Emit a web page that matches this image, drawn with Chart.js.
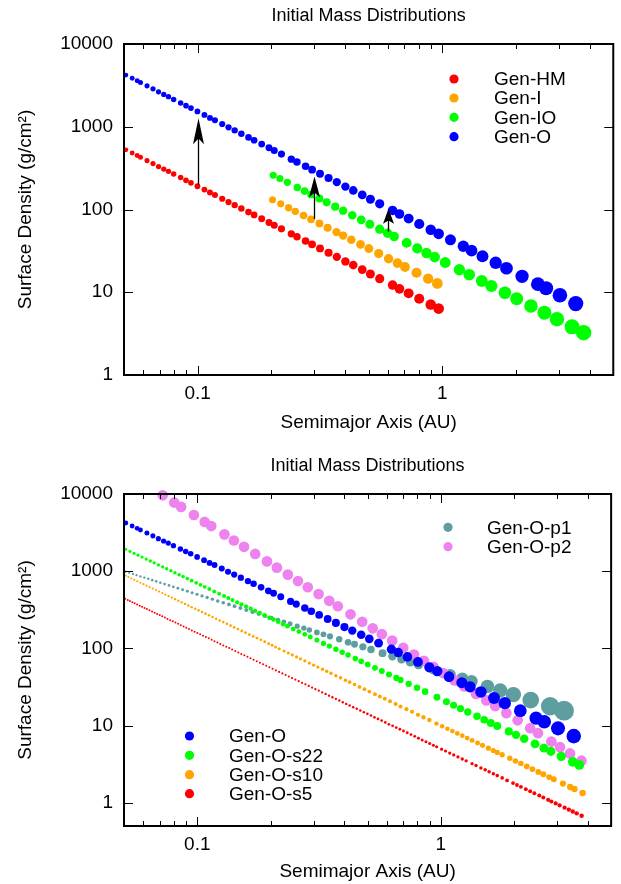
<!DOCTYPE html>
<html>
<head>
<meta charset="utf-8">
<script src="https://cdn.jsdelivr.net/npm/chart.js@4.4.0/dist/chart.umd.min.js"></script>
<style>
  body { margin: 0; background: #fff; }
  .box { position: absolute; left: 0; width: 621px; height: 442px; }
  canvas { display: block; }
</style>
</head>
<body>
<div class="box" style="top:0"><canvas id="topChart" width="621" height="442"></canvas></div>
<div class="box" style="top:442px"><canvas id="bottomChart" width="621" height="442"></canvas></div>
<script>
// axis ticks
const xMajor = [0.1, 1];
const xMinor = [0.06, 0.07, 0.08, 0.09, 0.2, 0.3, 0.4, 0.5, 0.6, 0.7, 0.8, 0.9, 2, 3, 4, 5];
const yMajor = [1, 10, 100, 1000, 10000];

// Gen-O (both panels)
const genOA = [0.0509,0.0540,0.0566,0.0584,0.0621,0.0657,0.0692,0.0727,0.0760,0.0798,
  0.0852,0.0896,0.0939,0.0998,0.1066,0.1123,0.1177,0.1260,0.1337,0.1417,
  0.1509,0.1614,0.1702,0.1827,0.1957,0.2056,0.2201,0.2415,0.2547,0.2762,
  0.2937,0.3164,0.3429,0.3706,0.4018,0.4327,0.4708,0.5084,0.5549,0.6263,
  0.6684,0.7287,0.8051,0.8969,0.9663,1.080,1.219,1.318,1.460,1.653,
  1.830,2.119,2.459,2.657,3.026,3.512];
const genOS = [4210,3850,3590,3420,3120,2870,2640,2460,2310,2140,
  1940,1800,1680,1530,1390,1280,1200,1080,984,905,
  824,744,687,618,557,517,467,406,375,333,
  303,271,240,214,189,170,150,133,117,97.5,
  88.3,77.6,66.8,56.8,50.8,43.0,35.9,31.8,27.3,22.7,
  19.5,15.6,12.5,11.2,9.2,7.3];

// Gen-HM
const hmA = [0.0509,0.0540,0.0566,0.0584,0.0621,0.0657,0.0692,0.0727,0.0760,0.0798,
  0.0852,0.0896,0.0939,0.0998,0.1066,0.1123,0.1177,0.1260,0.1337,0.1417,
  0.1509,0.1614,0.1702,0.1827,0.1957,0.2056,0.2201,0.2415,0.2547,0.2762,
  0.2937,0.3164,0.3429,0.3706,0.4018,0.4327,0.4708,0.5084,0.5549,0.6263,
  0.6684,0.7287,0.8051,0.8969,0.9663];
const hmS = [526,481,449,428,390,359,330,308,289,268,
  243,225,210,191,174,160,150,135,123,113,
  103,93.0,85.9,77.3,69.6,64.6,58.4,50.8,46.9,41.6,
  37.9,33.9,30.0,26.8,23.6,21.3,18.8,16.6,14.6,12.2,
  11.0,9.70,8.35,7.10,6.35];

// Gen-I
const iA = [0.2024,0.2185,0.2353,0.2507,0.2710,0.2909,0.3146,0.3399,0.3694,0.3933,
  0.4247,0.4633,0.5009,0.5496,0.6034,0.6561,0.7039,0.7849,0.8754,0.9545];
const iS = [131,117,105,95.0,84.5,76.0,67.6,60.2,53.2,48.4,
  43.1,37.8,33.7,29.3,25.4,22.5,20.2,17.2,14.6,12.8];

// Gen-IO
const ioA = [0.2037,0.2169,0.2327,0.2555,0.2737,0.2909,0.3146,0.3368,0.3650,0.3933,
  0.4287,0.4664,0.5056,0.5549,0.5978,0.6358,0.7152,0.7901,0.8616,0.9309,
  1.028,1.175,1.289,1.451,1.588,1.803,2.015,2.304,2.615,2.943,3.393,3.783];
const ioS = [259,237,213,185,167,152,136,122,108,96.8,
  85.1,75.0,66.4,57.8,51.7,47.1,39.5,33.9,29.8,26.6,
  22.9,18.7,16.3,13.7,11.9,9.85,8.36,6.83,5.65,4.73,3.82,3.25];

// Gen-O-p1
const p1A = [0.0507,0.0525,0.0544,0.0563,0.0584,0.0606,0.0629,0.0653,0.0678,0.0705,
  0.0734,0.0765,0.0797,0.0832,0.0870,0.0910,0.0952,0.0997,0.1045,0.1097,
  0.1153,0.1213,0.1278,0.1348,0.1422,0.1503,0.1589,0.1684,0.1785,0.1895,
  0.2014,0.2144,0.2267,0.2402,0.2571,0.2737,0.2883,0.3097,0.3296,0.3505,
  0.3825,0.4159,0.4420,0.4782,0.5164,0.5760,0.6323,0.6894,0.7493,0.8097,
  0.9309,1.092,1.225,1.335,1.553,1.752,1.985,2.338,2.809,3.205];
const p1S = [986,953,920,888,856,826,796,766,738,709,
  681,654,627,601,575,550,525,502,478,456,
  434,412,391,371,352,333,315,297,280,264,
  248,233,220,208,194,183,173,161,152,143,
  131,120,113,105,96.8,86.8,79.1,72.5,66.7,61.8,
  53.7,45.8,40.8,37.5,32.2,28.5,25.2,21.4,17.8,15.6];

// Gen-O-p2
const p2A = [0.0721,0.0804,0.0858,0.0968,0.1072,0.1141,0.1292,0.1413,0.1555,0.1728,
  0.1932,0.2121,0.2353,0.2590,0.2840,0.3146,0.3479,0.3776,0.4256,0.4752,
  0.5248,0.5722,0.6310,0.7005,0.7756,0.8522,0.9326,1.022,1.139,1.247,
  1.394,1.537,1.671,1.857,2.066,2.326,2.505,2.842,3.083,3.390,3.776];
const p2S = [9620,7750,6800,5340,4350,3840,3000,2500,2070,1675,
  1340,1112,903,746,620,505,413,351,276,221,
  182,153,126,102,83.2,68.9,57.5,47.9,38.5,32.2,
  25.7,21.2,17.9,14.5,11.7,9.25,7.97,6.20,5.26,4.36,3.51];

// Gen-O-s22
const s22A = [0.0508,0.0529,0.0550,0.0571,0.0593,0.0617,0.0641,0.0665,0.0692,0.0721,
  0.0748,0.0779,0.0809,0.0842,0.0874,0.0910,0.0948,0.0989,0.1030,0.1072,
  0.1120,0.1173,0.1229,0.1288,0.1341,0.1395,0.1457,0.1517,0.1585,0.1656,
  0.1728,0.1805,0.1886,0.1976,0.2056,0.2148,0.2250,0.2343,0.2476,0.2612,
  0.2762,0.2909,0.3097,0.3296,0.3485,0.3706,0.3933,0.4159,0.4452,0.4708,
  0.5009,0.5362,0.5722,0.6124,0.6561,0.6828,0.7378,0.7980,0.8616,0.9634,
  1.054,1.128,1.204,1.289,1.407,1.506,1.603,1.704,1.900,2.034,
  2.199,2.436,2.649,2.828,3.120,3.478,3.702];
const s22S = [1921,1810,1704,1612,1524,1434,1356,1282,1207,1137,
  1075,1011,956,901,852,802,754,707,665,627,
  587,547,511,476,448,422,395,372,349,327,
  306,287,269,250,236,221,206,194,178,165,
  152,140,128,116,107,97.5,89.2,82.0,74.1,68.1,
  62.0,56.0,50.8,45.9,41.4,39.0,34.7,30.9,27.5,23.3,
  20.3,18.3,16.6,15.0,13.2,11.9,10.8,9.89,8.40,7.58,
  6.75,5.79,5.10,4.63,3.99,3.39,3.09];

// Gen-O-s10
const s10A = [0.0507,0.0521,0.0536,0.0551,0.0567,0.0584,0.0601,0.0619,0.0637,0.0656,
  0.0676,0.0696,0.0718,0.0739,0.0762,0.0786,0.0810,0.0836,0.0863,0.0890,
  0.0919,0.0948,0.0980,0.1012,0.1045,0.1080,0.1117,0.1155,0.1195,0.1235,
  0.1278,0.1323,0.1369,0.1417,0.1469,0.1522,0.1576,0.1634,0.1695,0.1757,
  0.1822,0.1891,0.1963,0.2028,0.2095,
  0.2169,0.2272,0.2364,0.2454,0.2555,0.2651,0.2762,0.2883,0.3003,0.3126,
  0.3266,0.3399,0.3538,0.3706,0.3872,0.4056,0.4220,0.4420,0.4633,0.4854,
  0.5085,0.5362,0.5617,0.5884,0.6182,0.6518,0.6828,0.7222,0.7615,0.8051,
  0.8481,0.8969,0.9590,
  1.012,1.064,1.115,1.168,1.224,1.282,1.343,1.415,1.482,1.567,
  1.642,1.704,1.785,1.918,2.022,2.131,2.253,2.376,2.512,2.633,
  2.783,2.907,3.170,3.393,3.534,3.818];
const s10S = [876,840,805,772,740,709,679,650,622,595,
  569,544,520,498,475,454,434,414,395,377,
  359,342,326,311,296,282,268,255,242,230,
  219,208,197,187,178,168,160,151,143,136,
  129,122,115,109.5,104.3,
  99.0,92.4,87.0,82.3,77.5,73.2,68.9,64.6,60.8,57.2,
  53.6,50.5,47.5,44.3,41.5,38.7,36.5,34.0,31.7,29.6,
  27.6,25.5,23.8,22.2,20.6,19.0,17.7,16.3,15.1,13.8,
  12.8,11.8,10.6,
  9.82,9.11,8.49,7.92,7.39,6.89,6.43,5.94,5.54,5.10,
  4.75,4.49,4.19,3.77,3.48,3.22,2.96,2.73,2.51,2.34,
  2.15,2.02,1.77,1.60,1.51,1.34];

// Gen-O-s5
const s5A = [0.0506,0.0518,0.0529,0.0541,0.0553,0.0566,0.0580,0.0593,0.0607,0.0621,
  0.0636,0.0652,0.0668,0.0684,0.0701,0.0718,0.0736,0.0754,0.0774,0.0793,
  0.0813,0.0834,0.0855,0.0878,0.0901,0.0925,0.0949,0.0974,0.1000,0.1027,
  0.1055,0.1084,0.1114,0.1145,0.1176,0.1209,0.1243,0.1278,0.1315,0.1352,
  0.1390,0.1431,0.1473,0.1516,0.1560,0.1606,0.1653,0.1702,0.1754,0.1807,
  0.1862,0.1918,0.1976,0.2037,0.2101,0.2167,
  0.2234,0.2304,0.2375,0.2449,0.2526,0.2607,0.2691,0.2778,0.2867,0.2959,
  0.3054,0.3152,0.3254,0.3362,0.3473,0.3587,0.3706,0.3828,0.3955,0.4086,
  0.4220,0.4365,0.4514,0.4668,0.4828,0.4991,0.5161,0.5337,0.5518,0.5712,
  0.5911,0.6117,0.6334,0.6555,0.6785,0.7022,0.7274,0.7536,0.7808,0.8088,
  0.8381,0.8682,0.8994,0.9318,
  0.9608,1.007,1.045,1.087,1.129,1.175,1.224,1.270,1.343,1.394,
  1.460,1.520,1.578,1.642,1.704,1.785,1.870,1.978,2.053,2.131,
  2.232,2.326,2.420,2.535,2.633,2.757,2.842,2.961,3.074,3.220,
  3.352,3.478,3.611,3.783];
const s5S = [439,425,411,397,384,371,358,346,334,323,
  312,301,290,279,270,260,251,241,232,224,
  216,208,200,192,185,178,171,164,158,152,
  146,140,135,129,124,119,114,109,105,101,
  96.5,92.4,88.5,84.8,81.2,77.7,74.4,71.2,68.1,65.1,
  62.3,59.5,56.9,54.4,51.9,49.6,
  47.4,45.2,43.2,41.2,39.4,37.6,35.8,34.2,32.6,31.1,
  29.6,28.3,26.9,25.7,24.4,23.3,22.2,21.1,20.1,19.1,
  18.2,17.3,16.5,15.7,14.9,14.2,13.5,12.8,12.2,11.6,
  11.0,10.4,9.92,9.42,8.95,8.50,8.06,7.64,7.25,6.87,
  6.52,6.18,5.86,5.56,
  5.31,4.95,4.68,4.41,4.17,3.93,3.69,3.49,3.21,3.04,
  2.83,2.67,2.52,2.38,2.25,2.10,1.95,1.80,1.70,1.61,
  1.50,1.41,1.33,1.24,1.17,1.09,1.04,0.981,0.928,0.865,
  0.815,0.771,0.729,0.680];

// arrows in the top panel: a, from, to
const arrowX = [0.1, 0.3, 0.6];
const arrowFrom = [200, 77, 54];
const arrowTo = [1270, 250, 102];

const FONT = '"Liberation Sans", Arial, Helvetica, sans-serif';
const BLUE = '#0000ff', GREEN = '#00ff00', ORANGE = '#ffa500', RED = '#ff0000';
const TEAL = '#5f9ea0', VIOLET = '#ee82ee';

function pts(xs, ys) {
  return xs.map((x, i) => ({ x: x, y: ys[i] }));
}

// marker size grows with distance (top) or with mass (bottom)
const topRadius = (c) => 5.4 * Math.pow(c.raw.x, 0.27);
const botRadius = (c) => Math.max(1, 0.67 * Math.pow(c.raw.x * c.raw.x * c.raw.y, 0.53));

function ds(label, xs, ys, color, radius) {
  return {
    label: label,
    data: pts(xs, ys),
    backgroundColor: color,
    borderWidth: 0,
    pointRadius: radius,
    pointHoverRadius: radius,
    clip: false
  };
}

function makeOptions(yMin, padTop, xHeight, xTickPad, xTitlePad) {
  return {
    responsive: false,
    animation: false,
    events: [],
    layout: { padding: { top: padTop, right: 3, left: 0, bottom: 0 } },
    plugins: { legend: { display: false }, tooltip: { enabled: false }, title: { display: false } },
    scales: {
      x: {
        type: 'logarithmic', min: 0.05, max: 5,
        grid: { display: false, drawTicks: false },
        border: { display: false },
        afterBuildTicks: (s) => { s.ticks = xMajor.map(v => ({ value: v })); },
        afterFit: (s) => { s.height = xHeight; },
        ticks: { color: '#000', font: { family: FONT, size: 19 }, padding: xTickPad,
          maxRotation: 0, autoSkip: false, callback: (v) => String(v) },
        title: { display: true, text: 'Semimajor Axis (AU)', color: '#000',
          font: { family: FONT, size: 19 }, padding: { top: 0, bottom: xTitlePad } }
      },
      y: {
        type: 'logarithmic', min: yMin, max: 10000,
        grid: { display: false, drawTicks: false },
        border: { display: false },
        afterBuildTicks: (s) => { s.ticks = yMajor.map(v => ({ value: v })); },
        afterFit: (s) => { s.width = 124; },
        ticks: { color: '#000', font: { family: FONT, size: 19 }, padding: 11,
          autoSkip: false, callback: (v) => String(v) },
        title: { display: true, text: 'Surface Density (g/cm²)', color: '#000',
          font: { family: FONT, size: 19 }, padding: { top: 14.6, bottom: 0 } }
      }
    }
  };
}

// frame, inward ticks, title, key and arrows (gnuplot look)
function overlay(cfg) {
  return {
    id: 'overlay',
    afterDatasetsDraw(chart) {
      const ctx = chart.ctx, a = chart.chartArea;
      const x = chart.scales.x, y = chart.scales.y;
      ctx.save();
      ctx.strokeStyle = '#000';
      ctx.fillStyle = '#000';

      (cfg.arrows || []).forEach((ar) => {
        const px = Math.round(x.getPixelForValue(ar.x)) + 0.5;
        const y0 = y.getPixelForValue(ar.from), y1 = y.getPixelForValue(ar.to);
        const len = y0 - y1;
        const head = Math.min(26, 8 + 0.3 * len);
        ctx.lineWidth = 1.3;
        ctx.beginPath();
        ctx.moveTo(px, y0);
        ctx.lineTo(px, y1 + head * 0.7);
        ctx.stroke();
        ctx.beginPath();
        ctx.moveTo(px, y1);
        ctx.lineTo(px - 5.5, y1 + head);
        ctx.lineTo(px, y1 + head * 0.78);
        ctx.lineTo(px + 5.5, y1 + head);
        ctx.closePath();
        ctx.fill();
      });

      ctx.lineWidth = 1;
      ctx.beginPath();
      const tick = (v, len) => {
        const px = Math.round(x.getPixelForValue(v)) + 0.5;
        ctx.moveTo(px, a.bottom); ctx.lineTo(px, a.bottom - len);
        ctx.moveTo(px, a.top); ctx.lineTo(px, a.top + len);
      };
      xMajor.forEach(v => tick(v, 9));
      xMinor.forEach(v => tick(v, 5));
      yMajor.forEach((v) => {
        const py = Math.round(y.getPixelForValue(v)) + 0.5;
        ctx.moveTo(a.left, py); ctx.lineTo(a.left + 9, py);
        ctx.moveTo(a.right, py); ctx.lineTo(a.right - 9, py);
      });
      ctx.stroke();

      ctx.lineWidth = 2;
      ctx.strokeRect(a.left, a.top, a.right - a.left, a.bottom - a.top);

      ctx.font = '18px ' + FONT;
      ctx.textAlign = 'center';
      ctx.textBaseline = 'middle';
      ctx.fillText('Initial Mass Distributions', (a.left + a.right) / 2, cfg.titleY);

      ctx.font = '19px ' + FONT;
      ctx.textAlign = 'left';
      cfg.key.forEach((k) => {
        ctx.fillStyle = k.color;
        ctx.beginPath();
        ctx.arc(k.mx, k.y, 4.6, 0, Math.PI * 2);
        ctx.fill();
        ctx.fillStyle = '#000';
        ctx.fillText(k.label, k.tx, k.y + 1);
      });
      ctx.restore();
    }
  };
}

new Chart(document.getElementById('topChart'), {
  type: 'scatter',
  data: {
    datasets: [
      ds('Gen-O', genOA, genOS, BLUE, topRadius),
      ds('Gen-IO', ioA, ioS, GREEN, topRadius),
      ds('Gen-I', iA, iS, ORANGE, topRadius),
      ds('Gen-HM', hmA, hmS, RED, topRadius)
    ]
  },
  options: makeOptions(1, 44, 67, 7, 7.6),
  plugins: [overlay({
    titleY: 16,
    arrows: arrowX.map((v, i) => ({ x: v, from: arrowFrom[i], to: arrowTo[i] })),
    key: [
      { label: 'Gen-HM', color: RED, mx: 454, tx: 494, y: 79 },
      { label: 'Gen-I', color: ORANGE, mx: 454, tx: 494, y: 98 },
      { label: 'Gen-IO', color: GREEN, mx: 454, tx: 494, y: 117.3 },
      { label: 'Gen-O', color: BLUE, mx: 454, tx: 494, y: 136.7 }
    ]
  })]
});

new Chart(document.getElementById('bottomChart'), {
  type: 'scatter',
  data: {
    datasets: [
      ds('Gen-O-s5', s5A, s5S, RED, botRadius),
      ds('Gen-O-s10', s10A, s10S, ORANGE, botRadius),
      ds('Gen-O-s22', s22A, s22S, GREEN, botRadius),
      ds('Gen-O', genOA, genOS, BLUE, botRadius),
      ds('Gen-O-p2', p2A, p2S, VIOLET, botRadius),
      ds('Gen-O-p1', p1A, p1S, TEAL, botRadius)
    ]
  },
  options: makeOptions(0.5, 52, 58, 7.6, 0.6),
  plugins: [overlay({
    titleY: 24,
    key: [
      { label: 'Gen-O-p1', color: TEAL, mx: 448, tx: 487, y: 85.3 },
      { label: 'Gen-O-p2', color: VIOLET, mx: 448, tx: 487, y: 104.7 },
      { label: 'Gen-O', color: BLUE, mx: 189.5, tx: 229, y: 294 },
      { label: 'Gen-O-s22', color: GREEN, mx: 189.5, tx: 229, y: 313.3 },
      { label: 'Gen-O-s10', color: ORANGE, mx: 189.5, tx: 229, y: 332.7 },
      { label: 'Gen-O-s5', color: RED, mx: 189.5, tx: 229, y: 351.7 }
    ]
  })]
});
</script>
</body>
</html>
